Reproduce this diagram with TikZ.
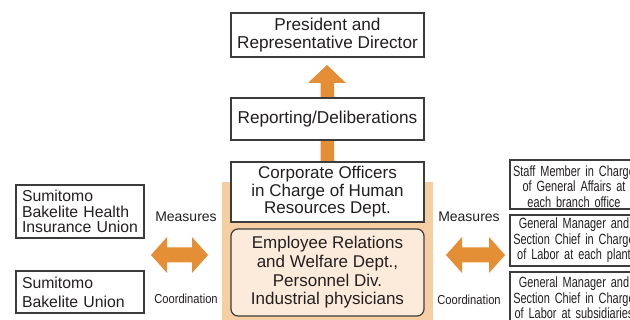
\documentclass[tikz,border=0pt]{standalone}
\usepackage{fontspec}
\setmainfont{Liberation Sans}
\newfontfamily\narrowfont[FakeStretch=0.74]{Liberation Sans}
\newfontfamily\coordfont[FakeStretch=0.86]{Liberation Sans}
\definecolor{txt}{HTML}{231F20}
\definecolor{edge}{HTML}{3C3C3C}
\definecolor{arr}{HTML}{E48E36}
\definecolor{bgor}{HTML}{F6CEA4}
\definecolor{lightor}{HTML}{FCEBDA}
\tikzset{
  box/.style={draw=edge, line width=1.2pt, fill=white, text=txt, align=center,
    inner sep=0pt, minimum width=193pt, font=\fontsize{17.2}{18}\selectfont},
  sidebox/.style={draw=edge, line width=1.2pt, fill=white, text=txt, align=left,
    inner xsep=6pt, inner ysep=0pt, minimum width=128pt, text width=116pt},
  rightbox/.style={draw=edge, line width=1.2pt, fill=white, text=txt, align=center,
    inner sep=0pt, minimum width=128pt, text width=126pt,
    font=\narrowfont\fontsize{14.8}{15.4}\selectfont},
  righttext/.style={text=txt, align=center, inner sep=0pt, text width=126pt,
    font=\narrowfont\fontsize{14.8}{15.4}\selectfont},
  lbl/.style={text=txt, inner sep=0pt, font=\fontsize{14}{16}\selectfont},
  clbl/.style={text=txt, inner sep=0pt, font=\coordfont\fontsize{13}{15}\selectfont},
  blockarrow/.style={fill=arr, draw=none}
}
\begin{document}
\begin{tikzpicture}[x=1pt,y=-1pt]
\useasboundingbox (0,0) rectangle (630,320);
\clip (0,0) rectangle (630,320);
\fill[white] (0,0) rectangle (630,320);

% orange background
\fill[bgor] (222,182) rectangle (433,330);

% up arrow
\fill[blockarrow] (320.5,162) -- (320.5,83) -- (308,83) -- (327,65) -- (346,83) -- (334,83) -- (334,162) -- cycle;

% double arrows
\fill[blockarrow] (151,255) -- (167,237) -- (167,247.5) -- (192,247.5) -- (192,237) -- (208,255)
  -- (192,273) -- (192,262.5) -- (167,262.5) -- (167,273) -- cycle;
\fill[blockarrow] (446,255) -- (462,237) -- (462,247.5) -- (489,247.5) -- (489,237) -- (505,255)
  -- (489,273) -- (489,262.5) -- (462,262.5) -- (462,273) -- cycle;

% central boxes
\node[box, minimum height=44pt] (pres) at (327.5,35) {President and\\Representative Director};
\node[box, minimum height=42pt] (rep) at (327.5,119) {Reporting/Deliberations};
\node[box, minimum height=60pt, font=\fontsize{17}{17.6}\selectfont] (corp) at (327.5,192) {Corporate Officers\\in Charge of Human\\Resources Dept.};
\node[box, minimum height=87pt, fill=lightor, rounded corners=7pt, font=\fontsize{17}{18.6}\selectfont] (emp) at (327.5,272.5)
  {Employee Relations\\and Welfare Dept.,\\Personnel Div.\\Industrial physicians};

% left boxes
\node[sidebox, minimum height=53pt, font=\fontsize{15.8}{15.7}\selectfont] (health) at (80,211.5)
  {Sumitomo\\Bakelite Health\\Insurance Union};
\node[sidebox, minimum height=42pt, font=\fontsize{15.8}{19}\selectfont] (union) at (80,292)
  {Sumitomo\\Bakelite Union};

% right boxes
\node[rightbox, minimum height=49pt] (staff) at (574,184.5) {};
\node[righttext, yshift=-2pt] (stafftext) at (staff.center)
  {Staff Member in Charge\\of General Affairs at\\each branch office};
\node[rightbox, minimum height=51pt] (plant) at (574,240.5)
  {General Manager and\\Section Chief in Charge\\of Labor at each plant};
\node[rightbox, minimum height=52pt] (subs) at (574,298)
  {General Manager and\\Section Chief in Charge\\of Labor at subsidiaries};

% labels
\node[lbl] (measL) at (186,217) {Measures};
\node[clbl] (coordL) at (186,299) {Coordination};
\node[lbl] (measR) at (469,217) {Measures};
\node[clbl] (coordR) at (469,300) {Coordination};
\end{tikzpicture}
\end{document}
